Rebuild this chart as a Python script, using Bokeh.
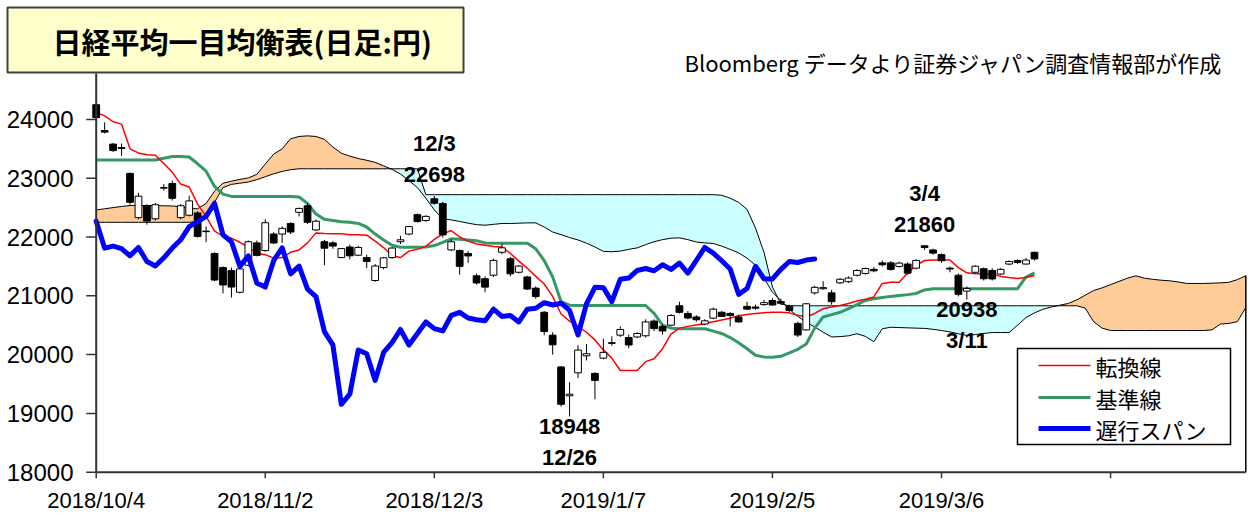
import numpy as np
from bokeh.plotting import figure
from bokeh.models import Range1d, Label, ColumnDataSource
from bokeh.embed import file_html
from bokeh.resources import INLINE

# ---------------- data ----------------
tick_idx = [0, 20, 40, 60, 80, 100, 120]
tick_labels = ["2018/10/4", "2018/11/2", "2018/12/3", "2019/1/7", "2019/2/5", "2019/3/6", ""]
y_ticks = [18000, 19000, 20000, 21000, 22000, 23000, 24000]

opens = [24250, 23810, 23580, 23520, 23080, 22330, 22530, 22310, 22830, 22910,
         22330, 22370, 22410, 22100, 21720, 21480, 21430, 21060, 21520, 21900,
         21770, 22050, 22050, 22230, 22420, 22530, 22120, 21920, 21900, 21650,
         21830, 21690, 21650, 21260, 21480, 21650, 21920, 22050, 22380, 22280,
         22650, 22570, 21780, 21770, 21720, 21340, 21290, 21350, 21740, 21630,
         21400, 21320, 21130, 20720, 20330, 19790, 19300, 19690, 19980, 19680,
         19940, 20190, 20330, 20290, 20300, 20320, 20570, 20480, 20500, 20830,
         20700, 20640, 20520, 20620, 20720, 20700, 20640, 20820, 20810, 20850,
         20920, 20900, 20820, 20530, 20420, 21050, 21120, 21050, 21220, 21240,
         21350, 21380, 21450, 21560, 21560, 21500, 21540, 21470, 21850, 21780,
         21700, 21470, 21350, 21080, 21400, 21460, 21430, 21370, 21540, 21600,
         21540, 21740]
highs = [24270, 23950, 23600, 23590, 23100, 22750, 22560, 22580, 22900, 22960,
         22560, 22700, 22440, 22180, 21740, 21500, 21480, 21480, 21940, 21940,
         22300, 22080, 22180, 22250, 22500, 22580, 22300, 21950, 21930, 21810,
         21870, 21850, 21700, 21540, 21660, 21830, 22020, 22190, 22400, 22370,
         22698, 22600, 21960, 21790, 21760, 21380, 21330, 21630, 21880, 21660,
         21520, 21340, 21160, 20740, 20380, 19800, 19530, 20160, 20180, 19700,
         20270, 20310, 20480, 20340, 20380, 20600, 20600, 20510, 20690, 20900,
         20740, 20670, 20600, 20800, 20740, 20720, 20680, 20900, 20850, 20930,
         20960, 20950, 20850, 20560, 20880, 21170, 21250, 21100, 21300, 21330,
         21450, 21480, 21490, 21600, 21590, 21580, 21570, 21620, 21860, 21800,
         21720, 21500, 21380, 21160, 21520, 21480, 21470, 21470, 21600, 21620,
         21640, 21750]
lows = [23990, 23760, 23450, 23380, 22550, 22300, 22210, 22280, 22790, 22620,
        22300, 22350, 21990, 21910, 21250, 21040, 20970, 21040, 21500, 21670,
        21750, 21880, 21900, 22050, 22350, 22220, 22100, 21520, 21800, 21640,
        21620, 21680, 21470, 21240, 21450, 21630, 21880, 22030, 22250, 22260,
        22550, 21990, 21760, 21360, 21560, 21190, 21060, 21320, 21710, 21330,
        21380, 21100, 20950, 20330, 20000, 19117, 18948, 19600, 19900, 19240,
        19920, 20150, 20300, 20110, 20280, 20290, 20400, 20340, 20480, 20700,
        20600, 20560, 20500, 20600, 20640, 20480, 20540, 20760, 20760, 20830,
        20830, 20850, 20720, 20300, 20410, 21020, 21100, 20850, 21200, 21220,
        21330, 21360, 21400, 21500, 21430, 21480, 21360, 21450, 21780, 21700,
        21560, 21400, 20990, 20938, 21380, 21260, 21260, 21350, 21520, 21540,
        21530, 21600]
closes = [24030, 23784, 23469, 23506, 22590, 22694, 22271, 22549, 22841, 22658,
          22532, 22614, 22010, 22091, 21268, 21184, 21149, 21457, 21920, 21687,
          22243, 21898, 22147, 22085, 22486, 22250, 22269, 21810, 21846, 21803,
          21680, 21821, 21583, 21507, 21646, 21812, 21952, 22177, 22262, 22351,
          22574, 22036, 21919, 21501, 21678, 21219, 21148, 21602, 21816, 21374,
          21506, 21115, 20987, 20392, 20166, 19155, 19327, 20077, 20015, 19561,
          20038, 20204, 20427, 20163, 20359, 20555, 20442, 20402, 20666, 20719,
          20622, 20593, 20574, 20773, 20649, 20664, 20556, 20773, 20788, 20883,
          20844, 20874, 20751, 20333, 20864, 21144, 21139, 20900, 21281, 21302,
          21431, 21464, 21425, 21528, 21449, 21556, 21385, 21602, 21822, 21726,
          21596, 21456, 21025, 21125, 21503, 21290, 21287, 21450, 21584, 21566,
          21608, 21627]

tenkan = [24120, 24060, 23960, 23920, 23500, 23430, 23400, 23390, 23250, 23100,
          22900, 22850, 22560, 22350, 22100, 22020, 21980, 21910, 21830, 21720,
          21700, 21640, 21650, 21740, 21780, 21900, 22070, 22060, 22055, 22055,
          22040, 22040, 22030, 21930, 21820, 21680, 21650, 21760, 21790, 21840,
          21960, 22050, 22110, 22000, 21930, 21880, 21860, 21840, 21830, 21720,
          21590, 21470, 21330, 21200, 20990, 20690, 20570, 20480, 20380, 20250,
          20080, 19940, 19730, 19730, 19730, 19880, 19930, 20100, 20350, 20450,
          20480, 20505, 20530, 20560, 20590, 20620, 20660, 20680, 20700, 20710,
          20720, 20720, 20710, 20670, 20640, 20700, 20780, 20810, 20835, 20870,
          20910, 20940, 20980, 21210, 21230, 21230, 21390, 21520, 21600, 21610,
          21610, 21610, 21480, 21390, 21375, 21375, 21370, 21330, 21310, 21295,
          21310, 21345]
kijun = [23310, 23310, 23310, 23310, 23310, 23310, 23310, 23310, 23340, 23370,
         23370, 23360, 23245, 23120, 22860, 22730, 22690, 22690, 22690, 22690,
         22690, 22690, 22690, 22690, 22680, 22570, 22390, 22300, 22280, 22260,
         22250, 22230, 22170, 22050, 21950, 21860, 21825, 21825, 21825, 21830,
         21855, 21910, 21970, 21960, 21950, 21935, 21900, 21895, 21895, 21895,
         21895, 21895, 21800, 21600, 21320, 20900, 20840, 20835, 20835, 20835,
         20835, 20835, 20835, 20835, 20835, 20835, 20700, 20500, 20450, 20440,
         20440, 20440, 20440, 20400, 20360, 20290, 20200, 20100, 19990, 19960,
         19955, 19970, 20030, 20090, 20180, 20450, 20640, 20680, 20720, 20780,
         20850, 20920, 20950, 20970, 20990, 21005, 21020, 21040, 21100, 21120,
         21120, 21120, 21120, 21120, 21120, 21120, 21120, 21120, 21120, 21120,
         21320, 21390]
span_a = [22460, 22480, 22500, 22520, 22535, 22535, 22535, 22535, 22530, 22528,
          22515, 22485, 22480, 22570, 22780, 22915, 22950, 22980, 23005, 23065,
          23240, 23410, 23500, 23670, 23710, 23720, 23710, 23660, 23530, 23425,
          23375, 23335, 23305, 23270, 23210, 23150, 23070, 22960, 22840, 22660,
          22460, 22310, 22290, 22265, 22235, 22210, 22200, 22215, 22230, 22230,
          22235, 22240, 22240, 22170, 22085, 22040, 21990, 21950, 21895, 21830,
          21755, 21750, 21760, 21790, 21815, 21870, 21920, 21955, 21980, 21985,
          21955, 21915, 21900, 21890, 21845, 21790, 21730, 21640, 21520, 21300,
          21060, 20920, 20770, 20650, 20550, 20470, 20380, 20300, 20305, 20320,
          20355, 20310, 20220, 20440, 20465, 20460, 20455, 20450, 20445, 20430,
          20410, 20385, 20355, 20325, 20340, 20360, 20375, 20375, 20375, 20500,
          20630, 20710, 20770, 20810, 20840, 20870, 20930, 21010, 21090, 21135,
          21190, 21245, 21300, 21340, 21300, 21280, 21265, 21255, 21235, 21210,
          21210, 21210, 21215, 21220, 21230, 21275, 21340]
span_b = [22250, 22250, 22250, 22250, 22250, 22250, 22250, 22250, 22250, 22250,
          22250, 22250, 22265, 22370, 22590, 22840, 22895, 22915, 22935, 22975,
          23025, 23075, 23115, 23145, 23160, 23160, 23160, 23160, 23160, 23160,
          23160, 23160, 23160, 23160, 23160, 23160, 23160, 23160, 23160, 22720,
          22720, 22720, 22720, 22720, 22720, 22720, 22720, 22720, 22720, 22720,
          22720, 22720, 22720, 22720, 22720, 22720, 22720, 22720, 22720, 22720,
          22720, 22720, 22720, 22720, 22720, 22720, 22720, 22720, 22720, 22720,
          22720, 22720, 22720, 22720, 22710, 22660, 22590, 22470, 22150, 21740,
          21150, 20860, 20830, 20830, 20830, 20830, 20830, 20830, 20830, 20830,
          20830, 20830, 20830, 20830, 20830, 20830, 20830, 20830, 20830, 20830,
          20830, 20830, 20830, 20830, 20830, 20830, 20830, 20830, 20830, 20830,
          20830, 20830, 20830, 20830, 20830, 20830, 20830, 20790, 20560, 20450,
          20410, 20410, 20410, 20410, 20410, 20410, 20410, 20410, 20410, 20410,
          20410, 20410, 20420, 20520, 20530, 20560, 20800]
chikou_shift = 26

ann_idx = [40, 56, 98, 103]
ann_val = [22698, 18948, 21860, 20938]
ann_date = ["12/3", "12/26", "3/4", "3/11"]
ann_above = [True, False, True, False]

title_text = "日経平均一目均衡表(日足:円)"
source_text = "Bloomberg データより証券ジャパン調査情報部が作成"
legend_names = ["転換線", "基準線", "遅行スパン"]

# ---------------- geometry (canvas pixels -> data units) ----------------
WIDTH, HEIGHT = 1248, 517
X_LAST = 136                  # last category on the axis
PX0, PX_END = 95.7, 1245.3    # x pixel of category 0 and of the last category
PXS = (PX_END - PX0) / X_LAST
PY0, PYS = 471.7, 0.0588      # y pixel of 18000, px per yen
Y_BASE = y_ticks[0]


def px2x(px):
    return (px - PX0) / PXS


def py2y(py):
    return Y_BASE + (PY0 - py) / PYS


p = figure(width=WIDTH, height=HEIGHT,
           x_range=Range1d(px2x(0), px2x(WIDTH)),
           y_range=Range1d(py2y(HEIGHT), py2y(0)),
           x_axis_location=None, y_axis_location=None,
           output_backend="svg", toolbar_location=None, min_border=0)
p.grid.visible = False
p.outline_line_color = None
p.background_fill_color = "white"
p.border_fill_color = "white"

AX_COL = "#333333"
Y_TOP = py2y(73)

# ---------------- cloud ----------------
A = np.array(span_a, dtype=float)
B = np.array(span_b, dtype=float)
cx, ca, cb = [], [], []
for j in range(len(A)):
    if j > 0:
        d0 = A[j - 1] - B[j - 1]
        d1 = A[j] - B[j]
        if d0 * d1 < 0:
            t = d0 / (d0 - d1)
            yc = A[j - 1] + t * (A[j] - A[j - 1])
            cx.append(j - 1 + t); ca.append(yc); cb.append(yc)
    cx.append(j); ca.append(A[j]); cb.append(B[j])
cx = np.array(cx); ca = np.array(ca); cb = np.array(cb)
ctop = np.maximum(ca, cb)
p.varea(x=cx, y1=cb, y2=ctop, fill_color="#FFCC99")
p.varea(x=cx, y1=ca, y2=ctop, fill_color="#CCFFFF")
xs_span = list(range(len(span_a)))
p.line(xs_span, span_a, line_color="black", line_width=1)
p.line(xs_span, span_b, line_color="black", line_width=1)
p.segment(x0=[xs_span[-1]], y0=[Y_BASE], x1=[xs_span[-1]], y1=[max(span_a[-1], span_b[-1])],
          line_color="black", line_width=1.5)

# ---------------- tenkan / kijun ----------------
xs = list(range(len(closes)))
p.line(xs, kijun, line_color="#339966", line_width=3)
p.line(xs, tenkan, line_color="#FF0000", line_width=1.5)

# ---------------- candles ----------------
o = np.array(opens); c = np.array(closes)
src = ColumnDataSource(dict(
    x=xs, h=highs, l=lows,
    top=np.maximum(o, c), bot=np.minimum(o, c),
    fill=["white" if cc >= oo else "black" for oo, cc in zip(opens, closes)]))
p.segment(x0="x", y0="l", x1="x", y1="h", source=src, line_color="black", line_width=1)
p.vbar(x="x", width=0.8, top="top", bottom="bot", source=src,
       fill_color="fill", line_color="black", line_width=1)

# ---------------- chikou span ----------------
p.line(list(range(len(closes) - chikou_shift)), closes[chikou_shift:],
       line_color="#0000FF", line_width=5, line_join="round", line_cap="round")

# ---------------- axes (lines, ticks, tick labels) ----------------
p.segment(x0=[0], y0=[Y_BASE], x1=[0], y1=[Y_TOP], line_color=AX_COL, line_width=2)
p.segment(x0=[0], y0=[Y_BASE], x1=[X_LAST], y1=[Y_BASE], line_color=AX_COL, line_width=2)
p.segment(x0=[px2x(85.7)] * len(y_ticks), y0=y_ticks, x1=[0] * len(y_ticks), y1=y_ticks,
          line_color=AX_COL, line_width=1.5)
p.segment(x0=tick_idx, y0=[Y_BASE] * len(tick_idx), x1=tick_idx,
          y1=[py2y(PY0 + 6)] * len(tick_idx), line_color=AX_COL, line_width=1.5)
for v in y_ticks:
    p.add_layout(Label(x=px2x(73), y=v, text=str(v), text_align="right", text_baseline="middle",
                       text_font="Liberation Sans", text_font_size="24px", text_color="black"))
for t, lab in zip(tick_idx, tick_labels):
    if lab:
        p.add_layout(Label(x=t, y=py2y(487), text=lab, text_align="center", text_baseline="top",
                           text_font="Liberation Sans", text_font_size="22px", text_color="black"))

# ---------------- annotations ----------------
for i, v, d, up in zip(ann_idx, ann_val, ann_date, ann_above):
    sgn = 1 if up else -1
    first = 21 if up else 10
    p.add_layout(Label(x=i, y=v, text=str(v), y_offset=sgn * first,
                       text_align="center", text_baseline="middle",
                       text_font="Liberation Sans", text_font_style="bold",
                       text_font_size="22px", text_color="black"))
    p.add_layout(Label(x=i, y=v, text=d, y_offset=sgn * (first + 31),
                       text_align="center", text_baseline="middle",
                       text_font="Liberation Sans", text_font_style="bold",
                       text_font_size="22px", text_color="black"))

# ---------------- title box & source note ----------------
p.quad(left=[px2x(7)], right=[px2x(463)], bottom=[py2y(72)], top=[py2y(7)],
       fill_color="#FFFFCC", line_color="#404040", line_width=2)
p.add_layout(Label(x=px2x(52), y=py2y(40), text=title_text,
                   text_align="left", text_baseline="middle",
                   text_font="Noto Sans CJK JP", text_font_style="bold",
                   text_font_size="29px", text_color="black"))
p.add_layout(Label(x=px2x(684), y=py2y(61), text=source_text,
                   text_align="left", text_baseline="middle",
                   text_font="Noto Sans CJK JP", text_font_size="22px", text_color="black"))

# ---------------- legend (drawn box) ----------------
p.quad(left=[px2x(1017)], right=[px2x(1230)], bottom=[py2y(444)], top=[py2y(348)],
       fill_color="white", line_color="black", line_width=1.5)
leg_rows = [365, 397, 428]
leg_colors = ["#FF0000", "#339966", "#0000FF"]
leg_widths = [1.5, 3, 5]
for name, ry, col, lw in zip(legend_names, leg_rows, leg_colors, leg_widths):
    p.line([px2x(1038), px2x(1090)], [py2y(ry), py2y(ry)], line_color=col, line_width=lw)
    p.add_layout(Label(x=px2x(1095), y=py2y(ry), text=name, text_align="left",
                       text_baseline="middle", text_font="Noto Sans CJK JP",
                       text_font_size="22px", text_color="black"))

open("out.html", "w").write(file_html(p, INLINE))
